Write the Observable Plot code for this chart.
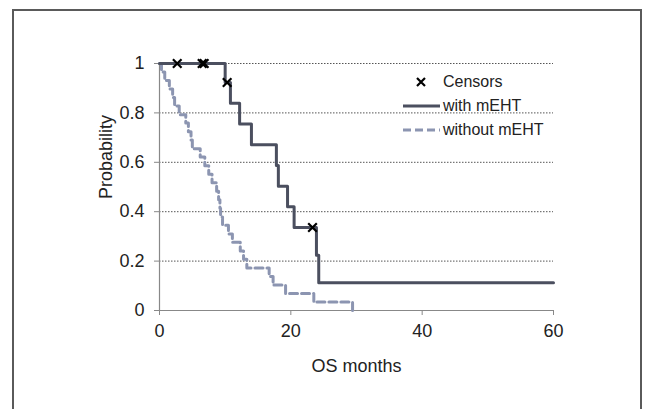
<!DOCTYPE html>
<html>
<head>
<meta charset="utf-8">
<script src="https://cdn.jsdelivr.net/npm/d3@7"></script>
<script src="https://cdn.jsdelivr.net/npm/@observablehq/plot@0.6"></script>
<style>
  body { margin: 0; background: #fff; font-family: "Liberation Sans", Arial, sans-serif; }
  #wrap { position: relative; width: 648px; height: 409px; overflow: hidden; }
  #frame { position: absolute; left: 12px; top: 9px; width: 630px; height: 420px;
           border: 2px solid #5a5a5a; border-bottom: none; box-sizing: border-box; }
  #chart { position: absolute; left: 0; top: 0; }
  #legend { position: absolute; left: 400px; top: 70px; font-size: 16px; color: #222; }
  .row { display: flex; align-items: center; height: 24px; }
  .sym { width: 42px; display: flex; justify-content: center; align-items: center; }
  .row span { margin-left: 1px; }
</style>
</head>
<body>
<div id="wrap">
  <div id="frame"></div>
  <div id="chart"></div>
  <div id="legend"></div>
</div>
<script>
// With mEHT (Kaplan-Meier step points)
const withMonths = [0, 10, 10.8, 12.2, 14, 17.8, 18.1, 19.5, 20.5, 23.9, 24.25, 60];
const withProb   = [1, 0.923, 0.839, 0.755, 0.671, 0.587, 0.503, 0.42, 0.336, 0.224, 0.112, 0.112];

// Without mEHT
const withoutMonths = [0, 0.3, 0.8, 1.5, 2.0, 2.3, 3.0, 4.0, 4.4, 4.8, 5.0, 6.2, 6.9, 7.5, 8.0, 8.7, 9.0, 9.2, 9.3, 9.6, 10.5, 11.1, 12.3, 12.8, 13.3, 16.7, 17.3, 19.2, 23.5, 29.4];
const withoutProb   = [1, 0.966, 0.931, 0.897, 0.862, 0.828, 0.793, 0.759, 0.724, 0.690, 0.655, 0.621, 0.586, 0.552, 0.517, 0.483, 0.448, 0.414, 0.379, 0.345, 0.310, 0.276, 0.241, 0.207, 0.172, 0.138, 0.103, 0.069, 0.034, 0];

// Censors (with mEHT)
const censorMonths = [2.7, 6.5, 6.8, 10.3, 23.3];
const censorProb   = [1, 1, 1, 0.923, 0.336];

const xTicks = [0, 20, 40, 60];
const yTicks = [0, 0.2, 0.4, 0.6, 0.8, 1];
const yTickLabels = ["0", "0.2", "0.4", "0.6", "0.8", "1"];
const gridY = [0.2, 0.4, 0.6, 0.8, 1];

const withData = withMonths.map((m, i) => ({m, p: withProb[i]}));
const withoutData = withoutMonths.map((m, i) => ({m, p: withoutProb[i]}));
const censorData = censorMonths.map((m, i) => ({m, p: censorProb[i]}));

const solidColor = "#4b4f5f";
const dashColor = "#8c95b1";

const chart = Plot.plot({
  width: 648,
  height: 409,
  marginLeft: 159,
  marginRight: 95,
  marginTop: 63,
  marginBottom: 99,
  style: { fontFamily: "Liberation Sans, Arial, sans-serif", fontSize: "18px", color: "#222", background: "transparent" },
  x: { domain: [0, 60] },
  y: { domain: [0, 1] },
  marks: [
    Plot.gridY(gridY, { stroke: "#555", strokeOpacity: 1, strokeWidth: 1, strokeDasharray: "1.5,1.5" }),
    Plot.ruleX([0], { stroke: "#888", strokeWidth: 1.2 }),
    Plot.ruleY([0], { stroke: "#888", strokeWidth: 1.2 }),
    Plot.axisX(xTicks, { tickSize: 5, tickPadding: 9, stroke: "#888", label: "OS months", labelAnchor: "center", labelArrow: "none", labelOffset: 61, fontSize: 18 }),
    Plot.axisY(yTicks, { tickSize: 5, tickPadding: 10, stroke: "#888", tickFormat: (d, i) => yTickLabels[i], label: null, fontSize: 18 }),
    Plot.text(["Probability"], { frameAnchor: "left", dx: -53, dy: 12, rotate: -90, fontSize: 18, fill: "#222" }),
    Plot.line(withoutData, { x: "m", y: "p", curve: "step-after", stroke: dashColor, strokeWidth: 3, strokeDasharray: "8,4" }),
    Plot.line(withData, { x: "m", y: "p", curve: "step-after", stroke: solidColor, strokeWidth: 3 }),
    Plot.dot(censorData, { x: "m", y: "p", symbol: "times", r: 4, stroke: "#000", strokeWidth: 2.2 })
  ]
});
document.getElementById("chart").appendChild(chart);

// Legend
const legendItems = [
  { label: "Censors", kind: "censor" },
  { label: "with mEHT", kind: "solid" },
  { label: "without mEHT", kind: "dash" }
];
const legend = document.getElementById("legend");
for (const item of legendItems) {
  const row = document.createElement("div");
  row.className = "row";
  let sym;
  if (item.kind === "censor") {
    sym = `<svg width="42" height="12"><path d="M17,2L25,10M25,2L17,10" stroke="#000" stroke-width="2.2"/></svg>`;
  } else if (item.kind === "solid") {
    sym = `<svg width="42" height="8"><line x1="3" x2="40" y1="4" y2="4" stroke="${solidColor}" stroke-width="3"/></svg>`;
  } else {
    sym = `<svg width="42" height="8"><line x1="3" x2="40" y1="4" y2="4" stroke="${dashColor}" stroke-width="3" stroke-dasharray="8,4"/></svg>`;
  }
  row.innerHTML = `<div class="sym">${sym}</div><span>${item.label}</span>`;
  legend.appendChild(row);
}
</script>
</body>
</html>
